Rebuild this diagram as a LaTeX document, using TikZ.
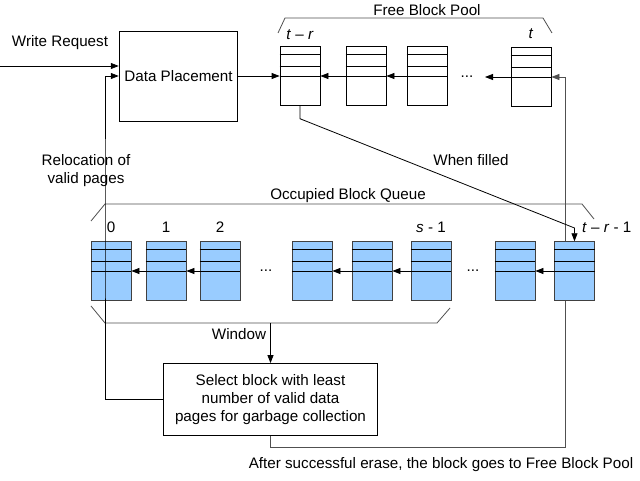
\documentclass[tikz,border=0pt]{standalone}
\usepackage{fontspec}
\setmainfont{Liberation Sans}
\usetikzlibrary{arrows.meta,calc,positioning}
\definecolor{qblue}{HTML}{99CCFF}
\definecolor{qedge}{HTML}{404040}
\definecolor{lgray}{HTML}{505050}

\begin{document}
\begin{tikzpicture}[x=0.75pt,y=-0.75pt,
    >={Triangle[length=6pt,width=4.5pt]},
    font=\fontsize{11.4pt}{13.5pt}\selectfont,
    line width=0.6pt,
    box/.style={draw,rectangle,align=center,inner sep=2pt},
    fblk/.style={draw,rectangle,fill=white,minimum width=30pt,minimum height=44pt,inner sep=0pt},
    oblk/.style={fblk,fill=qblue,draw=qedge},
    lbl/.style={inner sep=0pt},
    brk/.style={draw=lgray}]
  \useasboundingbox (0,0) rectangle (640,481);
  % free block pool
  \node[box,minimum width=89pt,minimum height=67.5pt] (dp) at (178.5,76) {Data Placement};
  \node[fblk] (f1) at (300,76) {};
  \node[fblk] (f2) at (366,76) {};
  \node[fblk] (f3) at (427,76) {};
  \node[fblk] (ft) at (531,77) {};
  \node[lbl] (fd) at (467,77) {...};
  \node[lbl,above=5pt of f1] {\textit{t} – \textit{r}};
  \node[lbl,above=6pt of ft] {\textit{t}};
  \draw[brk] (278,33) -- (285,18) -- (543,18) -- (552,33);
  \node[lbl] at (427,10) {Free Block Pool};
  \node[box,minimum width=160.5pt,minimum height=54pt] (sel) at (270.5,399.5)
    {Select block with least\\number of valid data\\pages for garbage collection};
  % back to the pool
  \coordinate (ret) at (565,447);
  \draw[->,lgray] (sel.south) |- (ret) -- (ret |- ft.east) -- (ft.east);
  \node[lbl] at (441,465) {After successful erase, the block goes to Free Block Pool};
  % occupied block queue
  \draw[brk] (91,221) -- (105,204) -- (582,204) -- (594,219);
  \node[lbl] at (348,196) {Occupied Block Queue};
  \foreach \n/\x in {o0/111,o1/166,o2/220,o3/312,o4/372,o5/431,o6/515,o7/574.5}
    \node[oblk] (\n) at (\x,271) {};
  \node[lbl] (od1) at (266,271) {...};
  \node[lbl] (od2) at (473,271) {...};
  \foreach \b in {f1,f2,f3,ft,o0,o1,o2,o3,o4,o5,o6,o7}
    \foreach \p in {0.13,0.34,0.5}
      \draw ($(\b.north west)!\p!(\b.south west)$) -- ($(\b.north east)!\p!(\b.south east)$);
  \foreach \a/\b in {f2/f1,f3/f2,o1/o0,o2/o1,o4/o3,o5/o4,o7/o6}
    \draw[->] (\a.west) -- (\b.east);
  \coordinate (fe) at (485,77);
  \draw[->] (ft.west) -- (fe |- ft.west);
  \node[lbl,above=6pt of o0] {0};
  \node[lbl,above=6pt of o1] {1};
  \node[lbl,above=6pt of o2] {2};
  \node[lbl,above=6pt of o5] {\textit{s} - 1};
  \node[lbl,above right=6pt and 5.5pt of o7.north] {\textit{t} – \textit{r} - 1};
  % window
  \draw[brk] (91,306) -- (105,323) -- (437,323) -- (450,308);
  \coordinate (win) at (270.5,323);
  \draw[->] (win) -- (sel.north);
  \node[lbl] at (239,334) {Window};
  % other connectors
  \coordinate (wr) at (0,66);
  \draw[->] (wr) -- (wr -| dp.west);
  \node[lbl] at (60,43) {Write Request};
  \draw[->] (dp.east) -- (f1.west);
  \coordinate (wf) at (574.5,228);
  \draw[->] (f1.south) -- ++(0,13) -- (wf) -- (o7.north);
  \node[lbl] at (471,160) {When filled};
  \coordinate (rl) at (105,200);
  \draw[->] (sel.west) -| (rl) |- (dp.west);
  \node[lbl,align=center] at (86,171) {Relocation of\\valid pages};
\end{tikzpicture}
\end{document}
